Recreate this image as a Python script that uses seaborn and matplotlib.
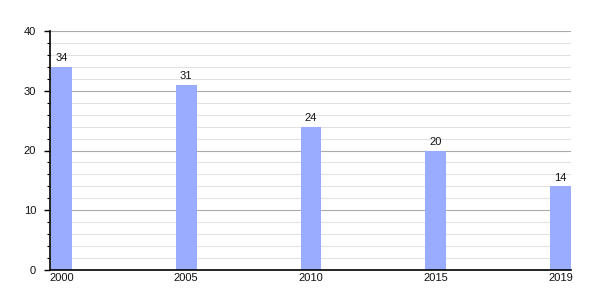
import matplotlib
matplotlib.use("Agg")
import matplotlib.pyplot as plt
import seaborn as sns
import pandas as pd
from matplotlib.ticker import MultipleLocator

years = ["2000", "2005", "2010", "2015", "2019"]
values = [34, 31, 24, 20, 14]

sns.set_style("white")
plt.rcParams['font.family'] = ['Liberation Sans', 'DejaVu Sans']

df = pd.DataFrame({"year": years, "value": values})

fig = plt.figure(figsize=(6, 3), dpi=100)
ax = fig.add_axes([50/600, 30/300, 521/600, 239/300])

w = 0.168
sns.barplot(data=df, x="year", y="value", color="#9aacff", saturation=1,
            width=w, ax=ax, zorder=3, edgecolor="none")
ax.set_xlim(-w/2 - 0.008, 4 + w/2)
ax.set_ylim(0, 40)

ax.yaxis.set_major_locator(MultipleLocator(10))
ax.yaxis.set_minor_locator(MultipleLocator(2))
ax.grid(which="major", axis="y", color="#aaaaaa", linewidth=0.8, zorder=0)
ax.grid(which="minor", axis="y", color="#e2e2e2", linewidth=0.8, zorder=0)
ax.set_axisbelow(True)

for i, v in enumerate(values):
    ax.text(i, v + 0.6, str(v), ha="center", va="bottom", fontsize=8, color="#111111")

ax.set_xlabel("")
ax.set_ylabel("")
for s in ["top", "right"]:
    ax.spines[s].set_visible(False)
for s in ["left", "bottom"]:
    ax.spines[s].set_color("black")
    ax.spines[s].set_linewidth(1.2)
    ax.spines[s].set_zorder(5)
ax.tick_params(axis="y", which="major", length=4, width=1, color="black", labelsize=8,
               labelcolor="#111111", left=True, pad=6)
ax.tick_params(axis="y", which="minor", length=2.5, width=0.8, color="black", left=True)
ax.tick_params(axis="x", length=0, labelsize=8, labelcolor="#111111", pad=2)

fig.savefig("out.png", dpi=100)
